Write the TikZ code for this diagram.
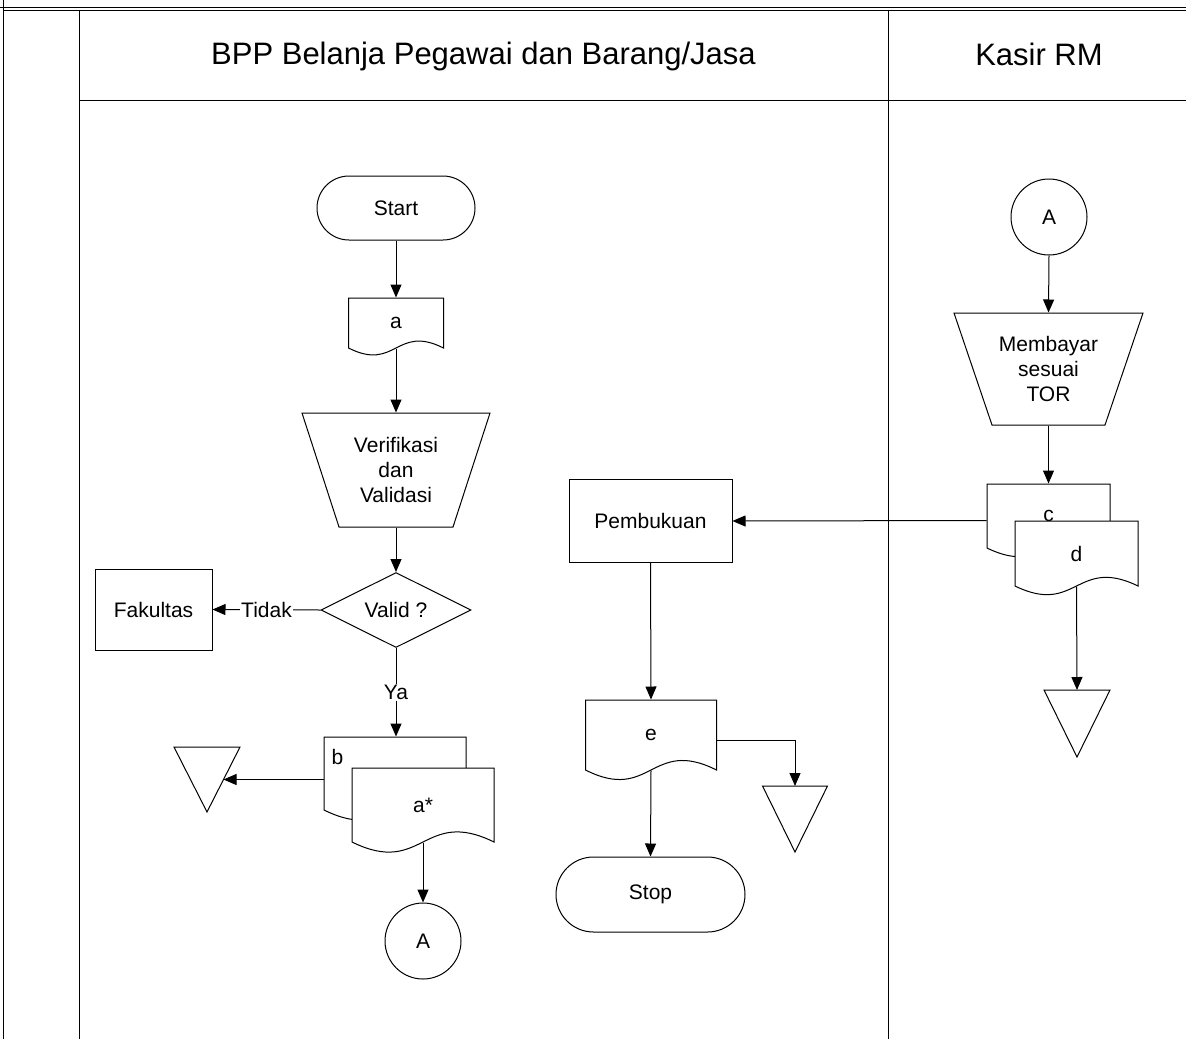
\documentclass[tikz,border=0pt]{standalone}
\usepackage{fontspec}
\setmainfont{Liberation Sans}
\usetikzlibrary{arrows.meta,shapes.geometric,shapes.misc,calc}
% document shape: name, left, top, right, bottom, wave amplitude, text
\newcommand{\docshape}[7]{%
  \filldraw[fill=white] (#2,#5) -- (#2,#3) -- (#4,#3) -- (#4,#5)
    .. controls ({(#2+#4)/2},{#5-#6}) and ({(#2+#4)/2},{#5+#6}) .. (#2,#5) -- cycle;
  \node[docbox, minimum width={#4-#2}, minimum height={#5-#3}] (#1) at ({(#2+#4)/2},{(#3+#5)/2}) {#7};
}
% manual operation trapezoid: name, cx, top, top width, bottom width, height, text
\newcommand{\trapshape}[7]{%
  \filldraw[fill=white] ({#2-#4/2},#3) -- ({#2+#4/2},#3) -- ({#2+#5/2},{#3+#6}) -- ({#2-#5/2},{#3+#6}) -- cycle;
  \node[docbox, minimum width=#4, minimum height=#6] (#1) at (#2,{#3+#6/2}) {#7};
}
% storage triangle: name, cx, top, half width, height
\newcommand{\mergetri}[5]{%
  \filldraw[fill=white] ({#2-#4},#3) -- ({#2+#4},#3) -- (#2,{#3+#5}) -- cycle;
  \coordinate (#1) at (#2,#3);
  \coordinate (#1-r) at ({#2+#4},#3);
  \coordinate (#1-tip) at (#2,{#3+#5});
}
\begin{document}
\begin{tikzpicture}[x=1pt,y=-1pt,line width=1pt,
  every node/.style={font=\fontsize{21}{25}\selectfont, inner sep=0pt},
  hdr/.style={font=\fontsize{31}{36}\selectfont},
  term/.style={draw, rounded rectangle, fill=white},
  proc/.style={draw, rectangle, fill=white},
  dec/.style={draw, diamond, aspect=2, fill=white},
  conn/.style={draw, circle, minimum size=76pt, fill=white},
  docbox/.style={rectangle, align=center},
  arr/.style={-{Triangle[length=13pt,width=11pt]}},
  lbl/.style={fill=white, inner sep=1pt}]
\useasboundingbox (0,0) rectangle (1186,1039);

% frame and lanes
\draw (3,0) -- (3,1039);
\draw (0,7) -- (1186,7);
\draw (3,10) -- (1186,10);
\draw (79,10) -- (79,1039);
\draw (888,10) -- (888,1039);
\draw (79,100) -- (1186,100);
\node[hdr] (h1) at (483.5,56) {BPP Belanja Pegawai dan Barang/Jasa};
\node[hdr] (h2) at (1039,54) {Kasir RM};

% left lane
\node[term, minimum width=158, minimum height=64] (start) at (396,208) {Start};
\docshape{a}{348.5}{298}{443.5}{348}{24}{a}
\trapshape{verif}{396}{413}{188}{114}{114}{Verifikasi\\dan\\Validasi}
\node[dec, minimum width=150, minimum height=75] (valid) at (396,610) {Valid ?};
\node[proc, minimum width=117, minimum height=81] (fak) at (153.5,609.5) {Fakultas};
\docshape{b}{324}{737}{466}{810}{35}{}
\node[anchor=west] (btxt) at (331,757) {b};
\docshape{astar}{352}{768}{494}{842}{35}{a*}
\mergetri{tri1}{207}{747}{33}{65}
\coordinate (t1in) at ($(tri1-r)!0.5!(tri1-tip)$);
\node[conn] (cA1) at (423,941) {A};

% middle
\node[proc, minimum width=163, minimum height=83] (pemb) at (650.5,521) {Pembukuan};
\docshape{e}{585.5}{700}{716.5}{770}{33}{e}
\mergetri{tri2}{795}{786}{32.5}{66}
\node[term, minimum width=189, minimum height=75] (stop) at (650.5,894.5) {Stop};

% right lane
\node[conn] (cA2) at (1049,217) {A};
\trapshape{pay}{1048.5}{313}{189}{113}{112}{Membayar\\sesuai\\TOR}
\docshape{c}{987}{484}{1110}{548}{30}{c}
\docshape{d}{1015}{521}{1138}{586}{30}{d}
\mergetri{tri3}{1077}{690}{33}{67}

% connectors
\draw[arr] (start.south) -- (a.north);
\draw[arr] (a.south) -- (verif.north);
\draw[arr] (verif.south) -- (valid.north);
\draw[arr] (valid.west) -- node[lbl] {Tidak} (fak.east);
\draw[arr] (valid.south) -- node[lbl] {Ya} (valid.south |- b.north);
\draw[arr] (b.west |- t1in) -- (t1in);
\draw[arr] (astar.south) -- (cA1.north);
\draw[arr] (cA2.south) -- (pay.north);
\draw[arr] (pay.south) -- (c.north);
\draw[arr] (c.west |- d.north) -- (pemb.east);
\draw[arr] (pemb.south) -- (e.north);
\draw[arr] ([yshift=-5pt]e.east) -| (tri2);
\draw[arr] (e.south) -- (stop.north);
\draw[arr] (d.south) -- (tri3);
\end{tikzpicture}
\end{document}
